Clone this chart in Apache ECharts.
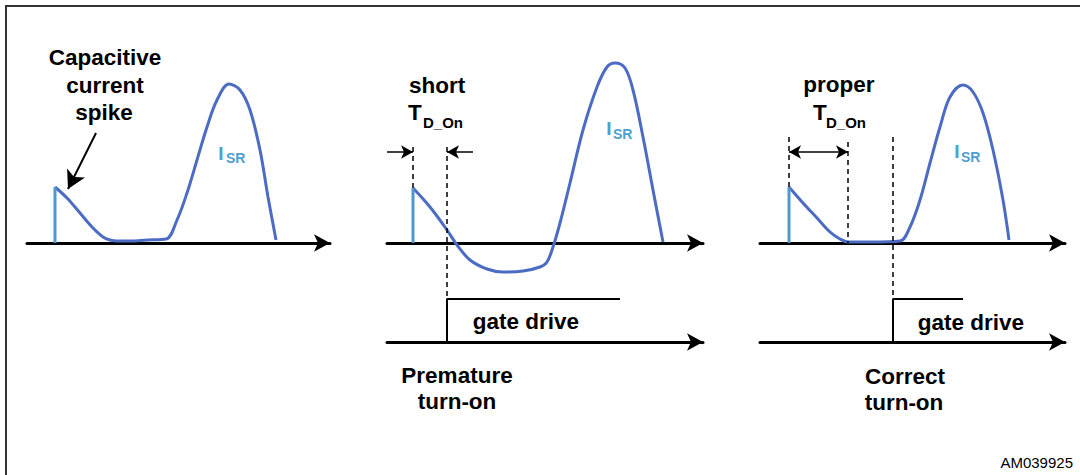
<!DOCTYPE html>
<html>
<head>
<meta charset="utf-8">
<script src="https://cdn.jsdelivr.net/npm/echarts@6/dist/echarts.min.js"></script>
<style>
html,body{margin:0;padding:0;background:#fff;}
#chart{width:1080px;height:475px;}
</style>
</head>
<body>
<div id="chart"></div>
<script>
// ---- data (x: time units, y: current / gate level units) ----
const p1Spike = [[28, 0], [28, 56]];
const p1Curve = [[28,56],[40,45],[53,30],[66,15],[76,6],[83,3],[90,2],[103,2],[120,3],[139,4],[150,23],[160,50],[170,83],[180,116],[190,143],[202,159],[213,153],[223,133],[233,93],[241,46],[249,3]];

const p2Spike = [[26, 0], [26, 55]];
const p2Curve = [[26,55],[43,36],[60,13],[70,-2],[83,-17],[100,-26],[116,-29],[136,-28],[153,-24],[160,-19],[166,-4],[173,20],[183,60],[196,113],[210,156],[220,176],[228,180],[238,175],[246,153],[256,106],[266,53],[276,1]];
const p2Dash1 = [[26, 96], [26, 55]];
const p2Dash2 = [[60, 96], [60, -56]];
const p2Gate = [[60, 0], [60, 43], [233, 43]];

const p3Spike = [[29, 0], [29, 56]];
const p3Curve = [[29,56],[43,40],[57,25],[70,11],[80,4],[88,1],[110,1],[140,2],[150,16],[160,43],[170,80],[180,116],[190,146],[203,158],[213,151],[223,130],[233,93],[243,43],[249,3]];
const p3Dash1 = [[29, 106], [29, 56]];
const p3Dash2 = [[88, 101], [88, 0]];
const p3Dash3 = [[133, 106], [133, -56]];
const p3Gate = [[133, 0], [133, 43], [203, 43]];

const txtSpike = ['Capacitive', 'current', 'spike'];
const txtShort = 'short';
const txtProper = 'proper';
const txtT = 'T';
const txtTsub = 'D_On';
const txtI = 'I';
const txtIsub = 'SR';
const txtGate = 'gate drive';
const txtPremature = ['Premature', 'turn-on'];
const txtCorrect = ['Correct', 'turn-on'];
const txtCode = 'AM039925';

// ---- styling ----
const CURVE = '#4b6cc2';
const SPIKE = '#4f97cf';
const ISR = '#4f9fd0';
const FF = "'Liberation Sans', Arial, Helvetica, sans-serif";
const BOLD = 'bold 22.5px ' + FF;

const chart = echarts.init(document.getElementById('chart'), null, {renderer: 'svg'});

function xAx(gi, w) {
  return {
    type: 'value', gridIndex: gi, min: 0, max: w,
    axisLine: {show: true, onZero: true, symbol: ['none', 'arrow'], symbolSize: [13, 16],
      lineStyle: {color: '#000', width: 3}},
    axisTick: {show: false}, axisLabel: {show: false}, splitLine: {show: false}
  };
}
function yAx(gi, mn, mx) {
  return {type: 'value', gridIndex: gi, min: mn, max: mx, show: false, splitLine: {show: false}};
}
function lineS(gi, data, color, width, type, extra) {
  return Object.assign({
    type: 'line', xAxisIndex: gi, yAxisIndex: gi, data: data, symbol: 'none',
    clip: false, silent: true, animation: false,
    lineStyle: {color: color, width: width, type: type || 'solid'},
    emphasis: {disabled: true}
  }, extra || {});
}
function arrowML(pairs, sym, size, w) {
  return {
    markLine: {
      silent: true, animation: false, symbol: sym, symbolSize: size,
      label: {show: false}, emphasis: {disabled: true},
      lineStyle: {type: 'solid', color: '#000', width: w || 1.5},
      data: pairs
    }
  };
}

function txt(text, x, y, font, color, align) {
  return {
    type: 'text', silent: true, z: 100,
    style: {text: text, x: x, y: y, font: font, fill: color || '#000',
      textAlign: align || 'center', textVerticalAlign: 'middle',
      align: align || 'center', verticalAlign: 'middle'}
  };
}

const option = {
  animation: false,
  backgroundColor: '#fff',
  grid: [
    {left: 27, top: 43, width: 303, height: 260},
    {left: 387, top: 43, width: 316, height: 260},
    {left: 760, top: 43, width: 305, height: 260},
    {left: 387, top: 282, width: 316, height: 60},
    {left: 760, top: 282, width: 305, height: 60}
  ],
  xAxis: [xAx(0, 303), xAx(1, 316), xAx(2, 305), xAx(3, 316), xAx(4, 305)],
  yAxis: [yAx(0, -60, 200), yAx(1, -60, 200), yAx(2, -60, 200), yAx(3, 0, 60), yAx(4, 0, 60)],
  series: [
    // panel 1
    lineS(0, p1Curve, CURVE, 3, 'solid', {smooth: 0.35}),
    lineS(0, p1Spike, SPIKE, 3, 'solid', arrowML(
      [[{coord: [69, 110]}, {coord: [41, 54]}]], ['none', 'arrow'], [15, 18], 2)),
    // panel 2
    lineS(1, p2Curve, CURVE, 3, 'solid', {smooth: 0.35}),
    lineS(1, p2Spike, SPIKE, 3),
    lineS(1, p2Dash1, '#000', 1.5, [5, 4], arrowML(
      [[{coord: [0, 91]}, {coord: [26, 91]}], [{coord: [86, 91]}, {coord: [60, 91]}]],
      ['none', 'arrow'], [10, 12])),
    lineS(1, p2Dash2, '#000', 1.5, [5, 4]),
    // panel 3
    lineS(2, p3Curve, CURVE, 3, 'solid', {smooth: 0.35}),
    lineS(2, p3Spike, SPIKE, 3),
    lineS(2, p3Dash1, '#000', 1.5, [5, 4], arrowML(
      [[{coord: [29, 91]}, {coord: [88, 91]}]], ['arrow', 'arrow'], [10, 12])),
    lineS(2, p3Dash2, '#000', 1.5, [5, 4]),
    lineS(2, p3Dash3, '#000', 1.5, [5, 4]),
    // gate drives
    lineS(3, p2Gate, '#000', 2),
    lineS(4, p3Gate, '#000', 2)
  ],
  graphic: [
    {type: 'rect', silent: true, z: 100, shape: {x: 6, y: 6, width: 1300, height: 700},
      style: {fill: 'none', stroke: '#333', lineWidth: 2}},
    txt(txtSpike[0], 105, 57, BOLD),
    txt(txtSpike[1], 105, 85, BOLD),
    txt(txtSpike[2], 104, 112, BOLD),
    txt(txtI, 221, 153, 'bold 19px ' + FF, ISR),
    txt(txtIsub, 226, 158, 'bold 14px ' + FF, ISR, 'left'),

    txt(txtShort, 437, 85, BOLD),
    txt(txtT, 408, 112, BOLD, '#000', 'left'),
    txt(txtTsub, 423, 122, 'bold 15px ' + FF, '#000', 'left'),
    txt(txtI, 609, 128, 'bold 19px ' + FF, ISR),
    txt(txtIsub, 613, 134, 'bold 14px ' + FF, ISR, 'left'),
    txt(txtGate, 526, 321, BOLD),
    txt(txtPremature[0], 457, 375, BOLD),
    txt(txtPremature[1], 457, 401, BOLD),

    txt(txtProper, 839, 84, BOLD),
    txt(txtT, 813, 112, BOLD, '#000', 'left'),
    txt(txtTsub, 826, 122, 'bold 15px ' + FF, '#000', 'left'),
    txt(txtI, 957, 151, 'bold 19px ' + FF, ISR),
    txt(txtIsub, 961, 157, 'bold 14px ' + FF, ISR, 'left'),
    txt(txtGate, 971, 322, BOLD),
    txt(txtCorrect[0], 905, 376, BOLD),
    txt(txtCorrect[1], 904, 402, BOLD),

    txt(txtCode, 1073, 462, '15px ' + FF, '#000', 'right')
  ]
};
chart.setOption(option);
</script>
</body>
</html>
